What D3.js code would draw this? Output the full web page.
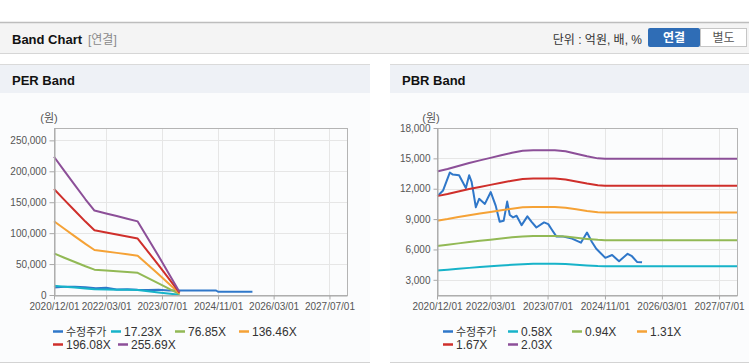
<!DOCTYPE html>
<html>
<head>
<meta charset="utf-8">
<script src="https://cdn.jsdelivr.net/npm/d3@7"></script>
<style>
  body { margin: 0; background: #fff; }
  svg { display: block; font-family: "Liberation Sans", Arial, "Noto Sans CJK KR", sans-serif; }
</style>
</head>
<body>
<svg id="chart" width="749" height="364"></svg>
<script>
// ---- data ----
var tickDates = ["2020/12/01", "2022/03/01", "2023/07/01", "2024/11/01", "2026/03/01", "2027/07/01"];
var xStart = "2020-12-01", xEnd = "2027-12-01";

// PER band (원)
var perTicks = [0, 50000, 100000, 150000, 200000, 250000];
var perNames = ["수정주가", "17.23X", "76.85X", "136.46X", "196.08X", "255.69X"];
var perPriceDates = ["2020-12-01", "2021-03-01", "2021-06-01", "2021-09-01", "2021-12-01", "2022-03-01",
  "2022-06-01", "2022-09-01", "2022-12-01", "2023-03-01", "2023-06-01", "2023-09-01", "2023-12-01",
  "2024-10-15", "2024-11-01", "2025-08-28"];
var perPrice = [12000, 13500, 13300, 12700, 11000, 11600, 8800, 9200, 8500, 8200, 8600, 7300, 7300,
  7300, 5300, 5300];
var perBandDates = ["2020-12-01", "2021-03-01", "2021-06-01", "2021-09-01", "2021-11-19", "2022-03-01",
  "2022-06-01", "2022-09-01", "2022-12-01", "2023-06-01", "2023-12-01"];
var per1723 = [15100, 13500, 12000, 10400, 9200, 8900, 8600, 8300, 8000, 4200, 300];
var per7685 = [67200, 60300, 53400, 46500, 41000, 39600, 38400, 37100, 35800, 18900, 1400];
var per13646 = [119300, 107100, 94800, 82600, 72800, 70300, 68100, 65800, 63500, 33600, 2600];
var per19608 = [171400, 153800, 136300, 118700, 104700, 101100, 97900, 94600, 91300, 48300, 3700];
var per25569 = [223500, 200600, 177700, 154800, 136500, 131800, 127600, 123300, 119000, 63000, 4800];

// PBR band (원)
var pbrTicks = [3000, 6000, 9000, 12000, 15000, 18000];
var pbrNames = ["수정주가", "0.58X", "0.94X", "1.31X", "1.67X", "2.03X"];
var priceDates = ["2020-12-10", "2021-01-22", "2021-03-20", "2021-04-15", "2021-06-07", "2021-08-04",
  "2021-09-01", "2021-09-22", "2021-10-28", "2021-11-25", "2022-01-13", "2022-03-04", "2022-04-15",
  "2022-05-19", "2022-06-22", "2022-07-22", "2022-08-13", "2022-09-10", "2022-10-10", "2022-11-22",
  "2023-01-10", "2023-02-15", "2023-03-28", "2023-06-01", "2023-07-07", "2023-08-04", "2023-09-15",
  "2023-11-12", "2024-01-25", "2024-04-10", "2024-06-01", "2024-07-13", "2024-08-19", "2024-11-04",
  "2025-01-01", "2025-03-01", "2025-05-13", "2025-06-19", "2025-08-01", "2025-09-13"];
var price = [11330, 11830, 13600, 13400, 13330, 12070, 13330, 12670, 10170, 11000, 10500, 11670, 10330,
  8730, 8830, 10730, 9400, 9170, 9330, 8400, 9270, 8730, 8170, 8670, 8500, 8000, 7270,
  7270, 7070, 6670, 7670, 6730, 6070, 5170, 5450, 4830, 5570, 5330, 4770, 4730];
var pbrBandDates = ["2020-12-01", "2021-03-01", "2021-06-01", "2021-09-01", "2021-12-01", "2022-03-01",
  "2022-06-01", "2022-09-01", "2022-12-01", "2023-03-01", "2023-06-01", "2023-09-01", "2023-12-01",
  "2024-03-01", "2024-06-01", "2024-09-01", "2024-11-01", "2027-12-01"];
var pbr058 = [3930, 4000, 4090, 4180, 4260, 4340, 4410, 4480, 4550, 4580, 4580, 4580, 4560, 4480, 4410, 4360, 4350, 4350];
var pbr094 = [6340, 6460, 6600, 6740, 6850, 6970, 7090, 7200, 7290, 7320, 7320, 7320, 7270, 7150, 7040, 6950, 6920, 6920];
var pbr131 = [8840, 9000, 9200, 9390, 9550, 9710, 9870, 10030, 10160, 10200, 10200, 10200, 10130, 9970, 9810, 9680, 9650, 9650];
var pbr167 = [11270, 11480, 11720, 11970, 12180, 12380, 12590, 12790, 12960, 13000, 13000, 13000, 12920, 12710, 12510, 12340, 12300, 12300];
var pbr203 = [13700, 13950, 14250, 14550, 14800, 15050, 15300, 15550, 15750, 15800, 15800, 15800, 15700, 15450, 15200, 15000, 14950, 14950];

var colors = ["#2f77c9", "#17b3c9", "#92b955", "#f5a236", "#cf2f2b", "#8c4f98"];

// ---- drawing ----
var parseDash = d3.timeParse("%Y-%m-%d"),
  parseSlash = d3.timeParse("%Y/%m/%d"),
  fmtSlash = d3.timeFormat("%Y/%m/%d");

var svg = d3.select("#chart");

function zip(dates, values) {
  return dates.map(function(d, i) {
    return { date: parseDash(d), value: values[i] };
  });
}

// top header bar
svg.append("rect").attr("x", 0).attr("y", 22).attr("width", 749).attr("height", 31).attr("fill", "#f4f4f4");
svg.append("line").attr("x1", 0).attr("x2", 749).attr("y1", 22.5).attr("y2", 22.5).attr("stroke", "#bdbdbd").attr("stroke-width", 1.5);
svg.append("line").attr("x1", 0).attr("x2", 749).attr("y1", 53.5).attr("y2", 53.5).attr("stroke", "#d6d6d6");
svg.append("text").attr("x", 12).attr("y", 44).attr("font-size", 13).attr("font-weight", "bold")
  .attr("fill", "#111").text("Band Chart");
svg.append("text").attr("x", 88).attr("y", 44).attr("font-size", 12).attr("fill", "#8a8a8a").text("[연결]");
svg.append("text").attr("x", 642).attr("y", 44).attr("font-size", 12).attr("fill", "#333")
  .attr("text-anchor", "end").text("단위 : 억원, 배, %");
svg.append("rect").attr("x", 648).attr("y", 28).attr("width", 52).attr("height", 19).attr("rx", 2).attr("fill", "#2f6db6");
svg.append("text").attr("x", 674).attr("y", 42).attr("font-size", 12).attr("font-weight", "bold")
  .attr("fill", "#fff").attr("text-anchor", "middle").text("연결");
svg.append("rect").attr("x", 700.5).attr("y", 28.5).attr("width", 46).attr("height", 18).attr("fill", "#fff").attr("stroke", "#c6c6c6");
svg.append("text").attr("x", 723.5).attr("y", 42).attr("font-size", 12)
  .attr("fill", "#555").attr("text-anchor", "middle").text("별도");

function drawPanel(cfg) {
  var g = svg.append("g");
  g.append("rect").attr("x", cfg.x0).attr("y", 64).attr("width", cfg.w).attr("height", 29).attr("fill", "#eef1f6");
  g.append("rect").attr("x", cfg.x0).attr("y", 93).attr("width", cfg.w).attr("height", 269).attr("fill", "#fbfcfd");
  g.append("line").attr("x1", cfg.x0).attr("x2", cfg.x0 + cfg.w).attr("y1", 64.5).attr("y2", 64.5).attr("stroke", "#dadada");
  g.append("line").attr("x1", cfg.x0).attr("x2", cfg.x0 + cfg.w).attr("y1", 362.5).attr("y2", 362.5).attr("stroke", "#d3d3d3");
  g.append("text").attr("x", cfg.x0 + 12).attr("y", 85).attr("font-size", 13).attr("font-weight", "bold")
    .attr("fill", "#111").text(cfg.title);
  g.append("text").attr("x", cfg.unitX).attr("y", 122).attr("font-size", 11).attr("fill", "#555")
    .attr("text-anchor", "middle").text("(원)");

  var x = d3.scaleTime().domain([parseDash(xStart), parseDash(xEnd)]).range([cfg.left, cfg.right]);
  var y = d3.scaleLinear().domain(cfg.yDomain).range([cfg.bottom, cfg.top]);
  var xt = tickDates.map(function(d) { return parseSlash(d); });

  // grid
  g.append("g").selectAll("line").data(cfg.yTicks).enter().append("line")
    .attr("x1", cfg.left).attr("x2", cfg.right)
    .attr("y1", function(d) { return Math.round(y(d)) + 0.5; })
    .attr("y2", function(d) { return Math.round(y(d)) + 0.5; })
    .attr("stroke", "#e6e6e6");
  g.append("g").selectAll("line").data(xt).enter().append("line")
    .attr("y1", cfg.top).attr("y2", cfg.bottom)
    .attr("x1", function(d) { return Math.round(x(d)) + 0.5; })
    .attr("x2", function(d) { return Math.round(x(d)) + 0.5; })
    .attr("stroke", "#e6e6e6");

  // series, legend order = draw order
  var line = d3.line()
    .x(function(d) { return x(d.date); })
    .y(function(d) { return y(d.value); });
  g.append("g").selectAll("path").data(cfg.series).enter().append("path")
    .attr("d", function(d) { return line(d.points); })
    .attr("fill", "none")
    .attr("stroke", function(d, i) { return colors[i]; })
    .attr("stroke-width", 2)
    .attr("stroke-linejoin", "round");

  // frame + axes
  g.append("rect").attr("x", cfg.left + 0.5).attr("y", cfg.top + 0.5)
    .attr("width", cfg.right - cfg.left).attr("height", cfg.bottom - cfg.top)
    .attr("fill", "none").attr("stroke", "#b4b4b4");

  var ax = g.append("g").attr("transform", "translate(0," + (cfg.bottom + 0.5) + ")")
    .call(d3.axisBottom(x).tickValues(xt).tickFormat(fmtSlash).tickSize(4).tickSizeOuter(0).tickPadding(3));
  var ay = g.append("g").attr("transform", "translate(" + (cfg.left + 0.5) + ",0)")
    .call(d3.axisLeft(y).tickValues(cfg.yTicks).tickFormat(d3.format(",")).tickSize(cfg.tickLen).tickSizeOuter(0).tickPadding(3));
  [ax, ay].forEach(function(a) {
    a.select(".domain").attr("stroke", "#a8a8a8");
    a.selectAll(".tick line").attr("stroke", "#a8a8a8");
    a.selectAll(".tick text").attr("fill", "#555").attr("font-size", 10)
      .attr("font-family", "'Liberation Sans', Arial, sans-serif");
  });

  // legend
  var lg = g.append("g").selectAll("g").data(cfg.series).enter().append("g")
    .attr("transform", function(d, i) { return "translate(" + (cfg.x0 + cfg.legendX[i]) + "," + cfg.legendY[i] + ")"; });
  lg.append("line").attr("x1", -13).attr("x2", -3).attr("y1", 0.5).attr("y2", 0.5)
    .attr("stroke", function(d, i) { return colors[i]; }).attr("stroke-width", 2.5);
  lg.append("text").attr("x", 0).attr("y", 4.5).attr("fill", "#333")
    .attr("font-size", function(d) { return /[가-힣]/.test(d.name) ? 11 : 12; })
    .text(function(d) { return d.name; });
}

drawPanel({
  x0: 0, w: 370, title: "PER Band", unitX: 49,
  left: 54, right: 347, top: 128, bottom: 295, tickLen: 5,
  yDomain: [0, 270000], yTicks: perTicks,
  legendX: [66, 124, 188, 252, 66, 131], legendY: [331, 331, 331, 331, 344, 344],
  series: [
    { name: perNames[0], points: zip(perPriceDates, perPrice) },
    { name: perNames[1], points: zip(perBandDates, per1723) },
    { name: perNames[2], points: zip(perBandDates, per7685) },
    { name: perNames[3], points: zip(perBandDates, per13646) },
    { name: perNames[4], points: zip(perBandDates, per19608) },
    { name: perNames[5], points: zip(perBandDates, per25569) }
  ]
});

drawPanel({
  x0: 390, w: 359, title: "PBR Band", unitX: 431,
  left: 437, right: 737, top: 128, bottom: 295, tickLen: 4,
  yDomain: [1500, 18000], yTicks: pbrTicks,
  legendX: [66, 131, 195, 260, 66, 131], legendY: [331, 331, 331, 331, 344, 344],
  series: [
    { name: pbrNames[0], points: zip(priceDates, price) },
    { name: pbrNames[1], points: zip(pbrBandDates, pbr058) },
    { name: pbrNames[2], points: zip(pbrBandDates, pbr094) },
    { name: pbrNames[3], points: zip(pbrBandDates, pbr131) },
    { name: pbrNames[4], points: zip(pbrBandDates, pbr167) },
    { name: pbrNames[5], points: zip(pbrBandDates, pbr203) }
  ]
});
</script>
</body>
</html>
